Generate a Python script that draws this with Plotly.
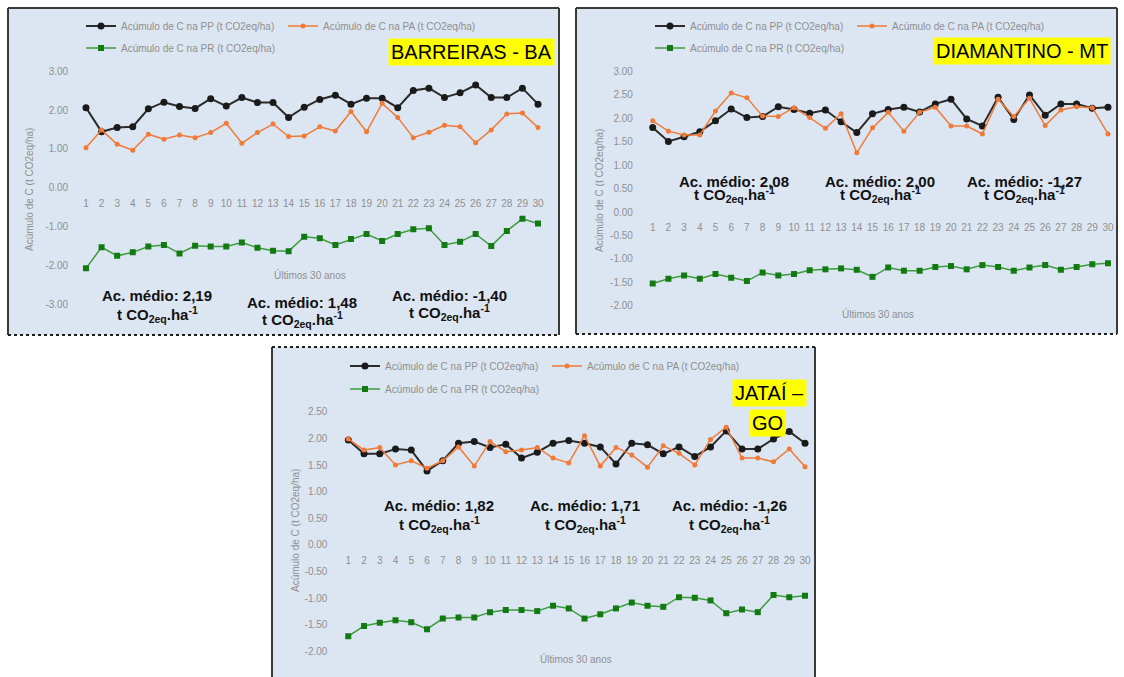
import plotly.graph_objects as go

W, H = 1124, 677

anos = list(range(1, 31))

# Barreiras - BA
barreiras_pp = [2.06, 1.44, 1.55, 1.57, 2.03, 2.20, 2.09, 2.04, 2.29, 2.10,
                2.32, 2.19, 2.19, 1.81, 2.07, 2.27, 2.38, 2.15, 2.30, 2.30,
                2.06, 2.50, 2.56, 2.32, 2.44, 2.64, 2.32, 2.32, 2.56, 2.15]
barreiras_pa = [1.03, 1.49, 1.12, 0.97, 1.38, 1.25, 1.36, 1.29, 1.42, 1.66,
                1.15, 1.42, 1.64, 1.32, 1.33, 1.57, 1.46, 1.96, 1.44, 2.17,
                1.81, 1.29, 1.43, 1.61, 1.57, 1.16, 1.49, 1.90, 1.92, 1.55]
barreiras_pr = [-2.06, -1.52, -1.74, -1.65, -1.50, -1.46, -1.68, -1.48, -1.50, -1.50,
                -1.40, -1.53, -1.61, -1.62, -1.25, -1.29, -1.46, -1.31, -1.18, -1.36,
                -1.18, -1.06, -1.03, -1.46, -1.38, -1.18, -1.49, -1.10, -0.79, -0.91]

# Diamantino - MT
diamantino_pp = [1.80, 1.50, 1.60, 1.71, 1.94, 2.19, 2.01, 2.03, 2.24, 2.18,
                 2.10, 2.17, 1.92, 1.69, 2.09, 2.18, 2.23, 2.13, 2.30, 2.40,
                 1.98, 1.83, 2.44, 1.97, 2.49, 2.06, 2.30, 2.30, 2.21, 2.23]
diamantino_pa = [1.94, 1.72, 1.64, 1.64, 2.15, 2.53, 2.43, 2.04, 2.03, 2.22,
                 2.01, 1.78, 2.09, 1.26, 1.79, 2.12, 1.72, 2.12, 2.23, 1.83,
                 1.83, 1.66, 2.40, 2.03, 2.42, 1.84, 2.17, 2.24, 2.22, 1.66]
diamantino_pr = [-1.52, -1.42, -1.35, -1.42, -1.32, -1.40, -1.47, -1.29, -1.35, -1.32,
                 -1.24, -1.22, -1.20, -1.23, -1.38, -1.18, -1.25, -1.25, -1.17, -1.15,
                 -1.22, -1.13, -1.17, -1.25, -1.18, -1.13, -1.23, -1.17, -1.11, -1.09]

# Jataí - GO
jatai_pp = [1.97, 1.71, 1.71, 1.80, 1.78, 1.39, 1.58, 1.91, 1.94, 1.83,
            1.89, 1.63, 1.74, 1.91, 1.96, 1.91, 1.84, 1.52, 1.91, 1.88,
            1.71, 1.84, 1.66, 1.84, 2.14, 1.80, 1.80, 1.99, 2.13, 1.91]
jatai_pa = [1.99, 1.78, 1.83, 1.50, 1.58, 1.44, 1.58, 1.84, 1.48, 1.94,
            1.75, 1.78, 1.83, 1.63, 1.54, 2.05, 1.48, 1.83, 1.69, 1.46,
            1.86, 1.72, 1.50, 1.98, 2.21, 1.63, 1.63, 1.56, 1.80, 1.47]
jatai_pr = [-1.71, -1.52, -1.46, -1.41, -1.45, -1.58, -1.38, -1.36, -1.36, -1.26,
            -1.22, -1.22, -1.24, -1.14, -1.19, -1.38, -1.30, -1.19, -1.08, -1.14,
            -1.16, -0.98, -0.99, -1.04, -1.28, -1.21, -1.26, -0.94, -0.98, -0.95]

series_names = ["Acúmulo de C na PP (t CO2eq/ha)",
                "Acúmulo de C na PA (t CO2eq/ha)",
                "Acúmulo de C na PR (t CO2eq/ha)"]

locais = ["BARREIRAS - BA", "DIAMANTINO - MT", "JATAÍ –<br>GO"]
medias_barreiras = ["2,19", "1,48", "-1,40"]
medias_diamantino = ["2,08", "2,00", "-1,27"]
medias_jatai = ["1,82", "1,71", "-1,26"]

yticks_barreiras = [3, 2, 1, 0, -1, -2, -3]
yticks_diamantino = [3.0, 2.5, 2.0, 1.5, 1.0, 0.5, 0.0, -0.5, -1.0, -1.5, -2.0]
yticks_jatai = [2.5, 2.0, 1.5, 1.0, 0.5, 0.0, -0.5, -1.0, -1.5, -2.0]

FONT = "Arial, Liberation Sans, sans-serif"
GRAY = "#8f8f8f"
BG = "#dce6f2"
C_PP = "#1a1a1a"
C_PA = "#f07a38"
C_PR_LINE = "#3f9b3f"
C_PR_MK = "#137a13"


def fx(px):
    return px / W


def fy(py):
    return 1 - py / H


# layout of each panel, in pixels of the page
panels = [
    dict(data=(barreiras_pp, barreiras_pa, barreiras_pr), medias=medias_barreiras,
         yticks=yticks_barreiras, box=(8, 8, 559, 335), bottom_dotted=True,
         xdom=(78.2, 545.8), ydom=(60, 320), yrange=(-3.385, 3.282),
         zero=188, ytl=7, leg_x=86, leg_y=(26, 48),
         title=dict(x=471, y=52), title_lines=None,
         med_x=(157, 302, 449), med_y=((296, 314), (302, 319), (296, 313)),
         ytitle=(30, 190), xtitle=(310, 275)),
    dict(data=(diamantino_pp, diamantino_pa, diamantino_pr), medias=medias_diamantino,
         yticks=yticks_diamantino, box=(576, 8, 1117, 334), bottom_dotted=True,
         xdom=(644.85, 1115.85), ydom=(60, 320), yrange=(-2.298, 3.234),
         zero=212, ytl=9, leg_x=655, leg_y=(26, 48),
         title=dict(x=1022, y=51.5), title_lines=None,
         med_x=(734, 880, 1024), med_y=((181, 195), (181, 195), (181, 195)),
         ytitle=(600, 190), xtitle=(878, 314)),
    dict(data=(jatai_pp, jatai_pa, jatai_pr), medias=medias_jatai,
         yticks=yticks_jatai, box=(272, 347, 815, 690), bottom_dotted=False,
         xdom=(340.4, 812.9), ydom=(400, 662), yrange=(-2.195, 2.720),
         zero=545, ytl=10, leg_x=350, leg_y=(366, 389),
         title=dict(x=769, y=393), title_lines=[(769, 393), (767, 423)],
         med_x=(439, 585, 729), med_y=((505, 524), (505, 524), (505, 524)),
         ytitle=(295, 531), xtitle=(576, 659)),
]

fig = go.Figure()
shapes = []
annotations = []
layout_axes = {}
legends = {}

for i, p in enumerate(panels):
    k = i + 1
    sfx = "" if k == 1 else str(k)
    xa, ya = "x" + sfx, "y" + sfx
    pp, pa, pr = p["data"]
    leg_top = "legend" if k == 1 else f"legend{2 * k - 1}"
    leg_bot = f"legend{2 * k}"

    fig.add_trace(go.Scatter(
        x=anos, y=pp, xaxis=xa, yaxis=ya, name=series_names[0], legend=leg_top,
        mode="lines+markers", line=dict(color="#2b2b2b", width=2),
        marker=dict(symbol="circle", size=7, color=C_PP)))
    fig.add_trace(go.Scatter(
        x=anos, y=pa, xaxis=xa, yaxis=ya, name=series_names[1], legend=leg_top,
        mode="lines+markers", line=dict(color=C_PA, width=1.5),
        marker=dict(symbol="circle", size=5, color=C_PA)))
    fig.add_trace(go.Scatter(
        x=anos, y=pr, xaxis=xa, yaxis=ya, name=series_names[2], legend=leg_bot,
        mode="lines+markers", line=dict(color=C_PR_LINE, width=1.5),
        marker=dict(symbol="square", size=6, color=C_PR_MK)))

    for name, row_y in ((leg_top, p["leg_y"][0]), (leg_bot, p["leg_y"][1])):
        legends[name] = dict(
            orientation="h", x=fx(p["leg_x"] - 5), y=fy(row_y),
            xanchor="left", yanchor="middle", entrywidth=157, entrywidthmode="pixels",
            bgcolor="rgba(0,0,0,0)", borderwidth=0,
            font=dict(family=FONT, size=10, color=GRAY), traceorder="normal")

    x0, x1 = p["xdom"]
    y0, y1 = p["ydom"]
    layout_axes["xaxis" + sfx] = dict(
        domain=[fx(x0), fx(x1)], range=[0.5, 30.5], anchor="free",
        position=fy(p["zero"]), tickmode="array", tickvals=anos,
        ticktext=[str(a) for a in anos], ticks="outside", ticklen=6,
        tickcolor="rgba(0,0,0,0)", showgrid=False, zeroline=False, showline=False,
        tickfont=dict(family=FONT, size=10, color=GRAY), fixedrange=True)
    layout_axes["yaxis" + sfx] = dict(
        domain=[fy(y1), fy(y0)], range=list(p["yrange"]), anchor=xa,
        tickmode="array", tickvals=p["yticks"],
        ticktext=[f"{v:.2f}" for v in p["yticks"]], ticks="outside", ticklen=p["ytl"],
        tickcolor="rgba(0,0,0,0)", showgrid=False, zeroline=False, showline=False,
        tickfont=dict(family=FONT, size=10, color=GRAY), fixedrange=True)

    # panel background and frame
    bl, bt, br, bb = p["box"]
    shapes.append(dict(type="rect", xref="paper", yref="paper", x0=fx(bl), x1=fx(br),
                       y0=fy(bb), y1=fy(bt), fillcolor=BG, line=dict(width=0),
                       layer="below"))
    solid = dict(color="#3a3a3a", width=2)
    dotted = dict(color="#1e1e1e", width=2, dash="dot")
    shapes.append(dict(type="line", xref="paper", yref="paper", x0=fx(bl), x1=fx(bl),
                       y0=fy(bb), y1=fy(bt), line=solid))
    shapes.append(dict(type="line", xref="paper", yref="paper", x0=fx(br), x1=fx(br),
                       y0=fy(bb), y1=fy(bt), line=solid))
    shapes.append(dict(type="line", xref="paper", yref="paper", x0=fx(bl), x1=fx(br),
                       y0=fy(bt), y1=fy(bt), line=dotted if k == 3 else solid))
    if p["bottom_dotted"]:
        shapes.append(dict(type="line", xref="paper", yref="paper", x0=fx(bl), x1=fx(br),
                           y0=fy(bb), y1=fy(bb), line=dotted))

    # location label on a yellow highlight
    if p["title_lines"]:
        for txt, (tx, ty) in zip(locais[i].split("<br>"), p["title_lines"]):
            annotations.append(dict(
                text=txt, x=fx(tx), y=fy(ty), xref="paper", yref="paper",
                xanchor="center", yanchor="middle", showarrow=False,
                bgcolor="#ffff00", borderpad=2,
                font=dict(family=FONT, size=20, color="#000000")))
    else:
        annotations.append(dict(
            text=locais[i], x=fx(p["title"]["x"]), y=fy(p["title"]["y"]),
            xref="paper", yref="paper", xanchor="center", yanchor="middle",
            showarrow=False, bgcolor="#ffff00", borderpad=2,
            font=dict(family=FONT, size=20, color="#000000")))

    # average accumulation labels
    for mx, (my1, my2), val in zip(p["med_x"], p["med_y"], p["medias"]):
        annotations.append(dict(
            text=f"<b>Ac. médio: {val}</b>", x=fx(mx), y=fy(my1), xref="paper",
            yref="paper", xanchor="center", yanchor="middle", showarrow=False,
            font=dict(family=FONT, size=15, color="#111111")))
        annotations.append(dict(
            text="<b>t CO<sub>2eq</sub>.ha<sup>-1</sup></b>", x=fx(mx), y=fy(my2),
            xref="paper", yref="paper", xanchor="center", yanchor="middle",
            showarrow=False, font=dict(family=FONT, size=15, color="#111111")))

    # axis titles
    tx, ty = p["ytitle"]
    annotations.append(dict(
        text="Acúmulo de C (t CO2eq/ha)", x=fx(tx), y=fy(ty), xref="paper",
        yref="paper", xanchor="center", yanchor="middle", textangle=-90,
        showarrow=False, font=dict(family=FONT, size=10, color=GRAY)))
    tx, ty = p["xtitle"]
    annotations.append(dict(
        text="Últimos 30 anos", x=fx(tx), y=fy(ty), xref="paper", yref="paper",
        xanchor="center", yanchor="middle", showarrow=False,
        font=dict(family=FONT, size=10, color=GRAY)))

fig.update_layout(
    width=W, height=H, margin=dict(l=0, r=0, t=0, b=0),
    paper_bgcolor="#ffffff", plot_bgcolor="rgba(0,0,0,0)",
    font=dict(family=FONT), shapes=shapes, annotations=annotations,
    showlegend=True, **layout_axes, **legends)

fig.write_html("out.html")
